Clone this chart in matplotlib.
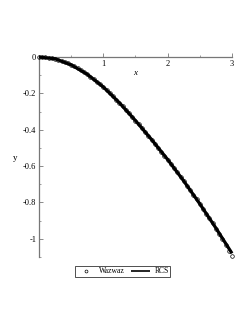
import matplotlib
matplotlib.use("Agg")
import matplotlib.pyplot as plt
from matplotlib.ticker import MultipleLocator

# Data
rcs_x = [0.0, 0.25, 0.5, 0.75, 1.0, 1.25, 1.5, 1.75, 2.0, 2.25, 2.5, 2.75, 3.0]
rcs_y = [0.0, -0.010, -0.043, -0.095, -0.165, -0.252, -0.350, -0.454, -0.564, -0.682,
         -0.808, -0.941, -1.080]

wazwaz_x = [0.00, 0.05, 0.10, 0.15, 0.20, 0.25, 0.30, 0.35, 0.40, 0.45,
            0.50, 0.55, 0.60, 0.65, 0.70, 0.75, 0.80, 0.85, 0.90, 0.95,
            1.00, 1.05, 1.10, 1.15, 1.20, 1.25, 1.30, 1.35, 1.40, 1.45,
            1.50, 1.55, 1.60, 1.65, 1.70, 1.75, 1.80, 1.85, 1.90, 1.95,
            2.00, 2.05, 2.10, 2.15, 2.20, 2.25, 2.30, 2.35, 2.40, 2.45,
            2.50, 2.55, 2.60, 2.65, 2.70, 2.75, 2.80, 2.85, 2.90, 2.95, 3.00]
wazwaz_y = [0.0, -0.0004, -0.0016, -0.0036, -0.0064, -0.010, -0.015, -0.0205, -0.0265, -0.0335,
            -0.043, -0.052, -0.062, -0.072, -0.083, -0.095, -0.108, -0.121, -0.135, -0.150,
            -0.165, -0.181, -0.198, -0.216, -0.234, -0.252, -0.271, -0.291, -0.310, -0.330,
            -0.350, -0.370, -0.391, -0.412, -0.433, -0.454, -0.476, -0.498, -0.520, -0.542,
            -0.564, -0.587, -0.610, -0.634, -0.658, -0.682, -0.707, -0.732, -0.757, -0.782,
            -0.808, -0.834, -0.861, -0.888, -0.915, -0.944, -0.973, -1.003, -1.034, -1.065, -1.097]

x_ticks = [1, 2, 3]
x_ticklabels = ["1", "2", "3"]
y_ticks = [0, -0.2, -0.4, -0.6, -0.8, -1.0]
y_ticklabels = ["0", "-0.2", "-0.4", "-0.6", "-0.8", "-1"]

plt.rcParams['font.family'] = ['Liberation Serif', 'DejaVu Serif']

fig = plt.figure(figsize=(2.53, 3.27), dpi=100)
ax = fig.add_axes([39/253, 1 - 257/327, (232 - 39)/253, (257 - 57)/327])
ax.set_xlim(0, 3)
ax.set_ylim(-1.1, 0)

ax.plot(wazwaz_x, wazwaz_y, linestyle='none', marker='o', markersize=2.6,
        markerfacecolor='none', markeredgecolor='black', markeredgewidth=0.5,
        label='Wazwaz', clip_on=False, zorder=3)
ax.plot(rcs_x, rcs_y, color='black', linewidth=2.3, label='RCS', clip_on=False, zorder=4,
        solid_capstyle='butt')

for s in ['top', 'right']:
    ax.spines[s].set_visible(False)
ax.spines['left'].set_position(('data', 0))
ax.spines['bottom'].set_position(('data', 0))
for s in ['left', 'bottom']:
    ax.spines[s].set_color('#777777')
    ax.spines[s].set_linewidth(0.9)

ax.set_xticks(x_ticks)
ax.set_xticklabels(x_ticklabels)
ax.set_yticks(y_ticks)
ax.set_yticklabels(y_ticklabels)
ax.xaxis.set_minor_locator(MultipleLocator(0.5))
ax.yaxis.set_minor_locator(MultipleLocator(0.1))
ax.tick_params(axis='both', which='major', length=3, width=0.6, color='#777777',
               labelsize=6, direction='in', pad=2)
ax.tick_params(axis='both', which='minor', length=1.5, width=0.5, color='#777777',
               direction='in')

ax.text(1.5, -0.088, 'x', fontsize=6.5, style='italic', ha='center', va='center')
ax.text(-0.37, -0.555, 'y', fontsize=6.5, ha='center', va='center', clip_on=False)

ax.patch.set_alpha(0)
leg = ax.legend(loc='upper center', bbox_to_anchor=((122.5 - 39) / 193, -0.025),
                ncol=2, fontsize=5.5, frameon=True, fancybox=False, edgecolor='black',
                handlelength=2.5, handletextpad=0.5, columnspacing=0.8, borderpad=0.2,
                markerscale=0.8)
leg.get_frame().set_linewidth(0.6)
leg.get_lines()[1].set_linewidth(1.2) if len(leg.get_lines()) > 1 else None

fig.savefig('out.png', dpi=100)
